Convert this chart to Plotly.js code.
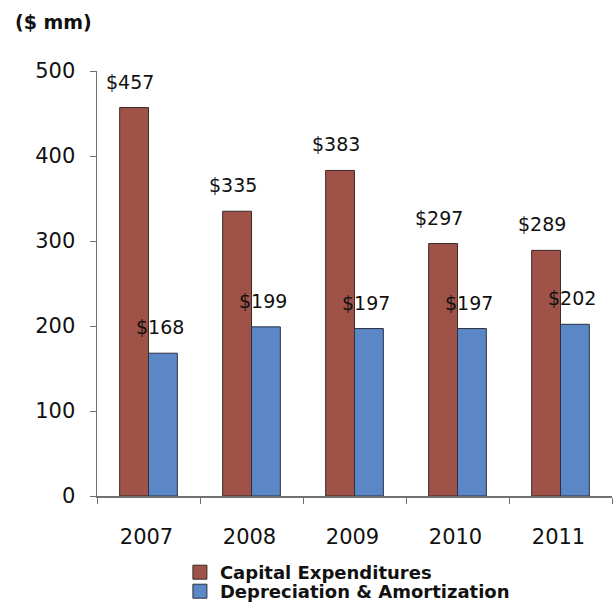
<!DOCTYPE html>
<html>
<head>
<meta charset="utf-8">
<script src="https://cdn.plot.ly/plotly-3.0.1.min.js"></script>
<style>html,body{margin:0;padding:0;background:#fff;}#chart{width:615px;height:605px;}</style>
</head>
<body>
<div id="chart"></div>
<script>
const years = ["2007", "2008", "2009", "2010", "2011"];
const capex = [457, 335, 383, 297, 289];
const dna = [168, 199, 197, 197, 202];
const seriesNames = ["Capital Expenditures", "Depreciation & Amortization"];
const yTicks = [0, 100, 200, 300, 400, 500];

const FONT = "DejaVu Sans, Verdana, sans-serif";
const red = "#9E5248";
const blue = "#5B87C6";
const redLine = "#3a2a28";
const blueLine = "#2a3040";

const traces = [
  {type: "bar", name: seriesNames[0], x: years, y: capex, showlegend: false,
   marker: {color: red, line: {color: redLine, width: 1}}, hoverinfo: "skip"},
  {type: "bar", name: seriesNames[1], x: years, y: dna, showlegend: false,
   marker: {color: blue, line: {color: blueLine, width: 1}}, hoverinfo: "skip"},
  {type: "scatter", mode: "markers", name: seriesNames[0], x: [null], y: [null], legend: "legend",
   marker: {symbol: "square", size: 14, color: red, line: {color: redLine, width: 1}}},
  {type: "scatter", mode: "markers", name: seriesNames[1], x: [null], y: [null], legend: "legend2",
   marker: {symbol: "square", size: 14, color: blue, line: {color: blueLine, width: 1}}}
];

const annotations = [];
years.forEach((yr, i) => {
  annotations.push({x: i, y: capex[i], xref: "x", yref: "y", text: "$" + capex[i],
    showarrow: false, yanchor: "bottom", yshift: 13, xshift: -19,
    font: {family: FONT, size: 19, color: "#111"}});
  annotations.push({x: i, y: dna[i], xref: "x", yref: "y", text: "$" + dna[i],
    showarrow: false, yanchor: "bottom", yshift: 13, xshift: 11,
    font: {family: FONT, size: 19, color: "#111"}});
});
annotations.push({x: 0, y: 1, xref: "paper", yref: "paper", text: "<b>($ mm)</b>",
  showarrow: false, xanchor: "center", yanchor: "middle", xshift: -44, yshift: 49,
  font: {family: FONT, size: 19, color: "#111"}});

const legFont = {family: FONT, size: 18, color: "#111", weight: "bold"};
const layout = {
  width: 615, height: 605,
  margin: {l: 97, r: 3, t: 71, b: 109, pad: 0},
  paper_bgcolor: "#fff", plot_bgcolor: "#fff",
  font: {family: FONT, size: 21, color: "#111"},
  barmode: "group", bargap: 0.44, bargroupgap: 0,
  showlegend: true,
  legend: {orientation: "v", x: 0.161, xanchor: "left", yref: "container", y: 0.0843, yanchor: "top",
    font: legFont, bgcolor: "rgba(0,0,0,0)", itemwidth: 30},
  legend2: {orientation: "v", x: 0.161, xanchor: "left", yref: "container", y: 0.0529, yanchor: "top",
    font: legFont, bgcolor: "rgba(0,0,0,0)", itemwidth: 30},
  xaxis: {type: "category", range: [-0.5, 4.5], showgrid: false, zeroline: false,
    showline: true, linecolor: "#707070", linewidth: 1.5,
    ticks: "outside", tickson: "boundaries", ticklen: 6, tickcolor: "#707070",
    ticklabelstandoff: 21, ticklabelshift: -2,
    tickfont: {family: FONT, size: 21, color: "#111"}},
  yaxis: {range: [0, 500], tickvals: yTicks, showgrid: false, zeroline: false,
    showline: true, linecolor: "#707070", linewidth: 1.5,
    ticks: "outside", ticklen: 6, tickcolor: "#707070",
    ticklabelstandoff: 10,
    tickfont: {family: FONT, size: 21, color: "#111"}},
  annotations: annotations
};

Plotly.newPlot("chart", traces, layout, {staticPlot: true, displayModeBar: false});
</script>
</body>
</html>
